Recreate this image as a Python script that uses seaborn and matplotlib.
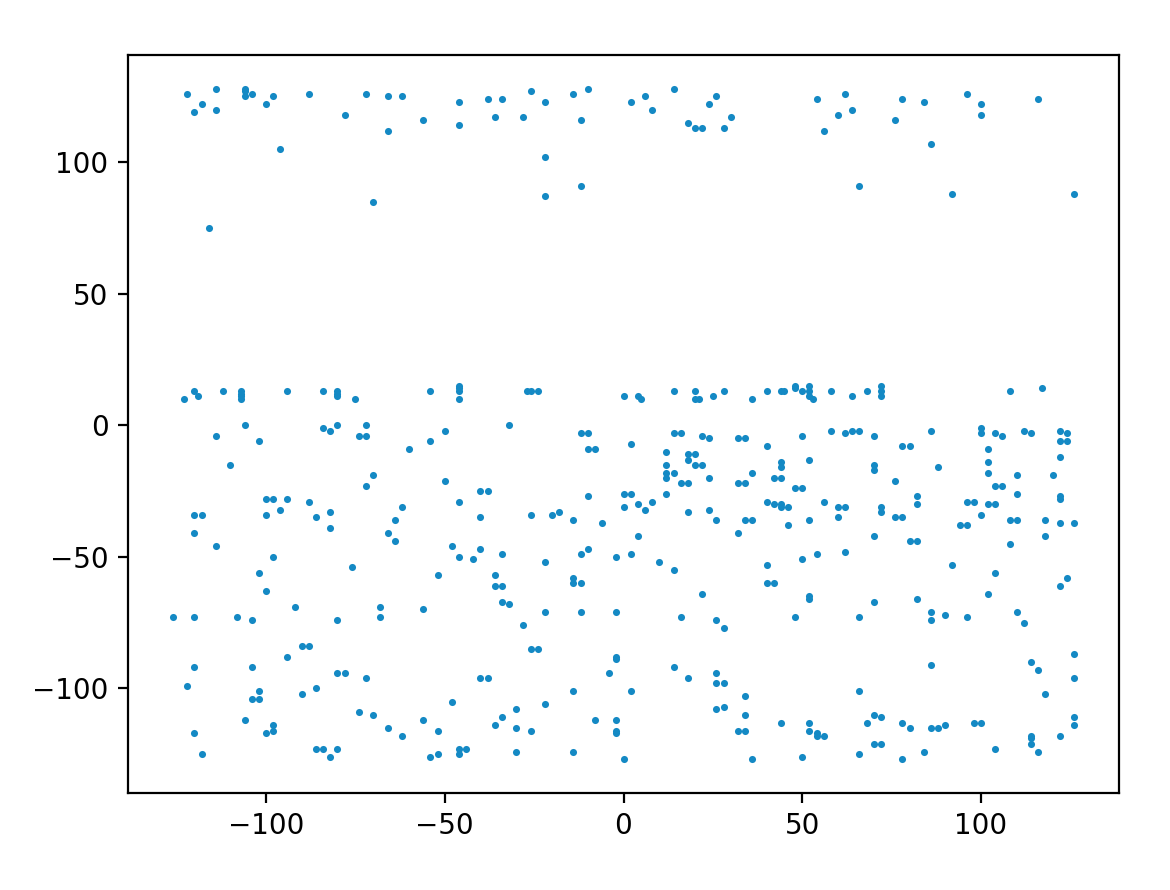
import matplotlib
matplotlib.use("Agg")
import matplotlib.pyplot as plt
import seaborn as sns
import pandas as pd

# upper band (y > 50)
x_top = [-122, -114, -118, -120, -114, -106, -106, -106, -104, -98, -100, -88, -72, -78, -96, -70, -116,
         -66, -62, -66, -56, -46, -46, -38, -34, -36, -28, -26, -22, -14, -10, -12, -22, -22, -12,
         2, 6, 8, 14, 18, 20, 22, 24, 26, 28, 30, 54, 56, 60, 62, 64, 66,
         78, 84, 76, 86, 96, 100, 100, 116, 92, 126]
y_top = [126, 128, 122, 119, 120, 128, 127, 125, 126, 125, 122, 126, 126, 118, 105, 85, 75,
         125, 125, 112, 116, 123, 114, 124, 124, 117, 117, 127, 123, 126, 128, 116, 102, 87, 91,
         123, 125, 120, 128, 115, 113, 113, 122, 125, 113, 117, 124, 112, 118, 126, 120, 91,
         124, 123, 116, 107, 126, 122, 118, 124, 88, 88]

# left side, middle and lower part
x_left = [-123, -120, -119, -112, -107, -107, -107, -107, -94, -84, -80, -80, -80, -75, -106, -114, -102, -110,
          -84, -82, -80, -72, -74, -72, -70, -72, -100, -98, -94, -96, -100, -88, -86, -82, -82, -120, -118, -120, -114,
          -98, -102, -100, -76, -92, -126, -120, -108, -104, -80, -90, -88, -94, -120, -104, -80, -78, -72, -122,
          -102, -104, -102, -90, -86, -74, -70, -106, -98, -100, -98, -120, -118, -86, -84, -80, -82]
y_left = [10, 13, 11, 13, 13, 12, 11, 10, 13, 13, 13, 12, 11, 10, 0, -4, -6, -15,
          -1, -2, 0, 0, -4, -4, -19, -23, -28, -28, -28, -32, -34, -29, -35, -33, -39, -34, -34, -41, -46,
          -50, -56, -63, -54, -69, -73, -73, -73, -74, -74, -84, -84, -88, -92, -92, -94, -94, -96, -99,
          -101, -104, -104, -102, -100, -109, -110, -112, -114, -117, -116, -117, -125, -123, -123, -123, -126]

# centre-left
x_cl = [-54, -46, -46, -46, -46, -27, -26, -24, 0, -32, -50, -54, -60, -12, -10, -10, -8, -50, -40, -38, -46,
        -62, -64, -66, -64, -48, -40, -40, -26, -20, -18, -14, -6, -10, 0, 0, -10,
        -46, -42, -34, -22, -12, -2, -52, -36, -36, -34, -34, -32, -14, -14, -12, -68, -68, -56, -22, -12, -2,
        -28, -26, -24, -2, -2, -4, -40, -38, -14, -48, -22, -30, -34, -36, -30, -26, -66, -62, -56, -52,
        -54, -52, -46, -46, -44, -30, -14, -8, -2, -2, -2, 0]
y_cl = [13, 15, 14, 13, 10, 13, 13, 13, 11, 0, -2, -6, -9, -3, -3, -9, -9, -21, -25, -25, -29,
        -31, -36, -41, -44, -46, -35, -47, -34, -34, -33, -36, -37, -27, -26, -31, -47,
        -50, -51, -49, -52, -49, -50, -57, -57, -61, -61, -67, -68, -58, -60, -60, -69, -73, -70, -71, -71, -71,
        -76, -85, -85, -88, -89, -94, -96, -96, -101, -105, -106, -108, -111, -114, -115, -116, -115, -118, -112, -116,
        -126, -125, -123, -125, -123, -124, -124, -112, -112, -116, -117, -127]

# centre-right
x_cr = [4, 5, 14, 20, 20, 21, 25, 28, 36, 40, 44, 45, 48, 48, 50, 52, 52, 52, 53, 58, 64, 68,
        14, 16, 2, 22, 24, 32, 34, 40, 50, 58, 62, 64, 66,
        12, 18, 18, 20, 12, 12, 12, 14, 20, 22, 16, 18, 24, 36, 32, 34, 44, 44, 42, 44, 52, 48, 50,
        2, 4, 6, 8, 12, 18, 24, 26, 34, 36, 32, 40, 42, 44, 44, 46, 46, 52, 56, 60, 62, 60, 4,
        2, 10, 14, 22, 16, 26, 28, 40, 40, 42, 50, 54, 62, 52, 52, 48, 66, 14, 18, 26, 26, 28, 2, 34,
        26, 28, 34, 32, 34, 44, 52, 52, 54, 54, 56, 66, 68, 36, 50, 66]
y_cr = [11, 10, 13, 13, 10, 10, 11, 13, 10, 13, 13, 13, 15, 14, 13, 15, 13, 11, 10, 13, 11, 13,
        -3, -3, -7, -4, -5, -5, -5, -8, -4, -2, -3, -2, -2,
        -10, -11, -13, -11, -15, -18, -20, -18, -15, -15, -22, -22, -20, -18, -22, -22, -14, -16, -20, -20, -13, -24, -24,
        -26, -30, -32, -29, -26, -33, -32, -36, -36, -36, -41, -29, -30, -30, -31, -31, -38, -36, -29, -31, -31, -35, -42,
        -49, -52, -55, -64, -73, -74, -77, -53, -60, -60, -51, -49, -48, -65, -66, -73, -73, -92, -96, -94, -98, -98, -101, -103,
        -108, -107, -110, -116, -116, -113, -113, -116, -117, -118, -118, -101, -113, -127, -126, -125]

# right side
x_right = [72, 72, 72, 108, 117, 70, 86, 78, 80, 100, 100, 104, 106, 112, 114, 122, 124, 122, 124, 122,
           102, 102, 102, 70, 70, 88, 76, 110, 120, 104, 106, 110, 122, 122, 82, 82, 96, 98, 102, 104, 100,
           72, 72, 76, 78, 94, 96, 108, 110, 118, 122, 126, 70, 118, 80, 82, 108,
           92, 104, 122, 124, 102, 70, 82, 86, 86, 90, 96, 110, 112, 126, 114, 116, 126, 86, 118,
           70, 72, 78, 80, 86, 88, 90, 98, 100, 70, 72, 78, 84, 104, 114, 114, 114, 116, 122, 126, 126]
y_right = [15, 13, 11, 13, 14, -4, -2, -8, -8, -1, -3, -3, -4, -2, -3, -2, -3, -6, -6, -12,
           -9, -14, -18, -15, -17, -16, -21, -19, -19, -23, -23, -26, -27, -28, -27, -30, -29, -29, -30, -30, -34,
           -31, -33, -35, -35, -38, -38, -36, -36, -36, -37, -37, -42, -42, -44, -44, -45,
           -53, -56, -61, -58, -64, -67, -66, -71, -74, -72, -73, -71, -75, -87, -90, -93, -96, -91, -102,
           -110, -111, -113, -115, -115, -115, -114, -113, -113, -121, -121, -127, -124, -123, -118, -119, -121, -124, -118, -111, -114]

df = pd.DataFrame({
    "x": x_top + x_left + x_cl + x_cr + x_right,
    "y": y_top + y_left + y_cl + y_cr + y_right,
})

fig = plt.figure(figsize=(5.85, 4.45), dpi=200)
ax = fig.add_axes([128 / 1170, (890 - 793) / 890, 991 / 1170, 738 / 890])
sns.scatterplot(data=df, x="x", y="y", ax=ax, color="#1489c4", s=6.5, linewidth=0)
ax.set_xlabel("")
ax.set_ylabel("")
ax.set_xticks([-100, -50, 0, 50, 100])
ax.set_yticks([-100, -50, 0, 50, 100])
fig.savefig("out.png", dpi=200)
